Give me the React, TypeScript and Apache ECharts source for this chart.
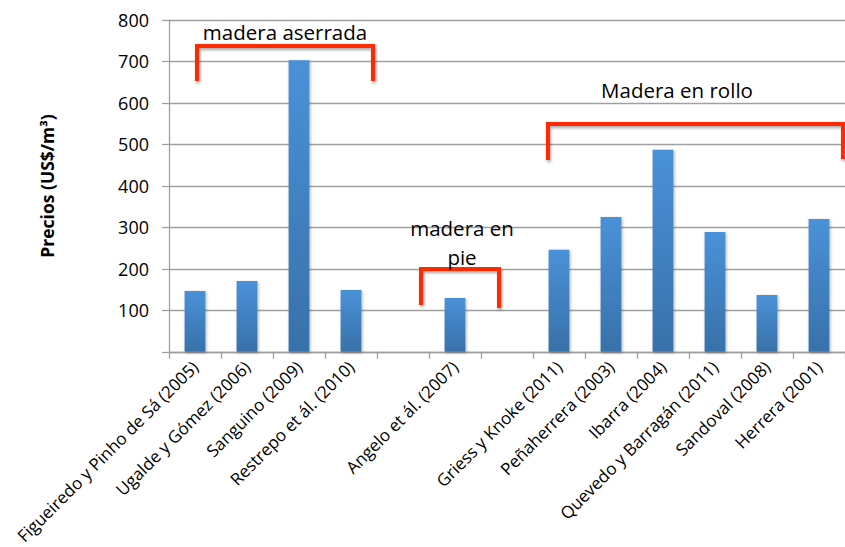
import React, { useEffect, useRef } from "react";
import * as echarts from "echarts";

const categories = [
  "Figueiredo y Pinho de Sá (2005)",
  "Ugalde y Gómez (2006)",
  "Sanguino (2009)",
  "Restrepo et ál. (2010)",
  " ",
  "Angelo et ál. (2007)",
  "  ",
  "Griess y Knoke (2011)",
  "Peñaherrera (2003)",
  "Ibarra (2004)",
  "Quevedo y Barragán (2011)",
  "Sandoval (2008)",
  "Herrera (2001)",
];

const prices: (number | null)[] = [147, 171, 703, 149, null, 130, null, 246, 325, 487, 289, 137, 320];

const yTicks = [0, 100, 200, 300, 400, 500, 600, 700, 800];

const groupLabels = ["madera aserrada", "madera en\npie", "Madera en rollo"];

const FONT = "'Open Sans', 'Noto Sans', sans-serif";
const RED = "#ff2a00";

export default function App() {
  const ref = useRef<HTMLDivElement>(null);
  useEffect(() => {
    document.body.style.margin = "0";
    const chart = echarts.init(ref.current!, null, { renderer: "svg" });
    const bracketStyle = {
      stroke: RED,
      lineWidth: 4,
      fill: "none",
      shadowBlur: 3,
      shadowColor: "rgba(0,0,0,0.35)",
      shadowOffsetX: 1,
      shadowOffsetY: 2,
    };
    const textStyle = (x: number, y: number, text: string) => ({
      type: "text",
      x,
      y,
      style: {
        text,
        fill: "#000",
        fontSize: 20.5,
        fontFamily: FONT,
        align: "center",
        verticalAlign: "middle",
        lineHeight: 29,
      },
      z: 10,
    });
    chart.setOption({
      animation: false,
      backgroundColor: "#fff",
      grid: { left: 169, top: 20, width: 684, height: 332 },
      xAxis: {
        type: "category",
        data: categories,
        boundaryGap: true,
        axisLine: { show: true, lineStyle: { color: "#a0a0a0", width: 1.3 } },
        axisTick: { show: true, interval: 0, length: 7, lineStyle: { color: "#a0a0a0", width: 1.3 } },
        axisLabel: {
          interval: 0,
          rotate: 45,
          margin: 12,
          fontSize: 17,
          fontFamily: FONT,
          color: "#000",
        },
        splitLine: { show: false },
      },
      yAxis: {
        type: "value",
        min: yTicks[0],
        max: yTicks[yTicks.length - 1],
        interval: 100,
        name: "Precios (US$/m³)",
        nameLocation: "middle",
        nameGap: 113,
        nameRotate: 90,
        nameTextStyle: { fontSize: 17.5, fontWeight: "bold", fontFamily: FONT, color: "#000" },
        axisLine: { show: true, lineStyle: { color: "#a0a0a0", width: 1.3 } },
        axisTick: { show: true, length: 7, lineStyle: { color: "#a0a0a0", width: 1.3 } },
        axisLabel: {
          margin: 20,
          fontSize: 18,
          fontFamily: FONT,
          color: "#000",
          formatter: (v: number) => (v === 0 ? "" : String(v)),
        },
        splitLine: { show: true, lineStyle: { color: "#a0a0a0", width: 1.3 } },
      },
      series: [
        {
          type: "bar",
          data: prices,
          barWidth: "40%",
          itemStyle: {
            color: new echarts.graphic.LinearGradient(0, 0, 0, 1, [
              { offset: 0, color: "#4a91d8" },
              { offset: 1, color: "#3871aa" },
            ]),
            shadowBlur: 3,
            shadowColor: "rgba(0,0,0,0.3)",
            shadowOffsetX: 1,
            shadowOffsetY: 1,
          },
        },
      ],
      graphic: [
        { type: "polyline", shape: { points: [[197, 81], [197, 46], [373, 46], [373, 81]] }, style: bracketStyle, z: 10 },
        { type: "polyline", shape: { points: [[421, 305], [421, 269], [499, 269], [499, 308]] }, style: bracketStyle, z: 10 },
        { type: "polyline", shape: { points: [[548, 160], [548, 124], [843, 124], [843, 159]] }, style: bracketStyle, z: 10 },
        textStyle(285, 32, groupLabels[0]),
        textStyle(462, 242, groupLabels[1]),
        textStyle(677, 90, groupLabels[2]),
      ],
    });
    return () => chart.dispose();
  }, []);
  return <div ref={ref} style={{ width: 845, height: 547 }} />;
}
